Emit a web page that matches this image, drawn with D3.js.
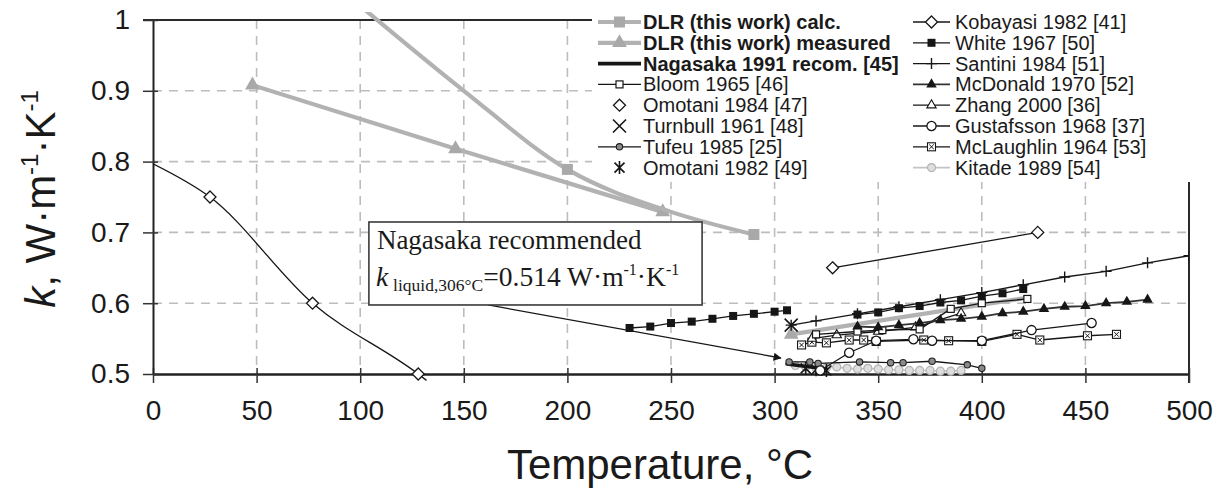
<!DOCTYPE html>
<html>
<head>
<meta charset="utf-8">
<script src="https://cdn.jsdelivr.net/npm/d3@7"></script>
<style>
  html, body { margin: 0; padding: 0; background: #fff; }
  svg { display: block; }
  text { font-family: "Liberation Sans", Arial, Helvetica, sans-serif; }
  text.serif { font-family: "Liberation Serif", "Times New Roman", serif; }
</style>
</head>
<body>
<svg id="chart" width="1227" height="493"></svg>
<script>
// ---- Thermal conductivity of NaNO3, k [W/(m K)] vs temperature [°C] ----
const xTicks = [0, 50, 100, 150, 200, 250, 300, 350, 400, 450, 500];
const yTicks = [0.5, 0.6, 0.7, 0.8, 0.9, 1.0];
const yTickLabels = ["0.5", "0.6", "0.7", "0.8", "0.9", "1"];

// DLR (this work)
const dlrCalcCurve = [[100, 1.02], [150, 0.900], [200, 0.789], [250, 0.729], [290, 0.697]];
const dlrCalcPoints = [[200, 0.789], [290, 0.697]];
const dlrMeasured = [[48, 0.908], [146, 0.818], [246, 0.729]];
const dlrMeasuredLiquid = [[308, 0.556], [420, 0.607]];
// Nagasaka 1991 recommendation (liquid)
const nagasaka = [[306, 0.514], [325, 0.507]];
// literature data
const omotani1984Fit = [[0, 0.797], [27.5, 0.75], [77, 0.6], [128, 0.5], [132, 0.491]];
const omotani1984 = [[27.5, 0.75], [77, 0.6], [128, 0.5]];
const kobayasi1982 = [[328, 0.65], [427, 0.70]];
const white1967Solid = [[230, 0.565], [240, 0.567], [250, 0.572], [260, 0.574], [270, 0.578],
  [280, 0.582], [290, 0.585], [300, 0.588], [306, 0.590]];
const white1967Liquid = [[340, 0.584], [350, 0.587], [360, 0.593], [370, 0.596], [380, 0.601],
  [390, 0.604], [400, 0.610], [410, 0.614], [420, 0.620]];
const santini1984 = [[308, 0.569], [320, 0.575], [340, 0.585], [360, 0.595], [380, 0.605],
  [400, 0.615], [420, 0.626], [440, 0.637], [460, 0.645], [480, 0.657], [500, 0.667]];
const mcdonald1970 = [[340, 0.567], [350, 0.566], [360, 0.569], [370, 0.572], [380, 0.576],
  [390, 0.578], [400, 0.581], [410, 0.586], [420, 0.588], [430, 0.592], [440, 0.595],
  [450, 0.596], [460, 0.600], [470, 0.602], [480, 0.605]];
const bloom1965 = [[320, 0.556], [340, 0.560], [352, 0.562], [370, 0.563], [385, 0.592],
  [400, 0.600], [422, 0.606]];
const zhang2000 = [[318, 0.550], [330, 0.555], [350, 0.560], [368, 0.566], [390, 0.586]];
const gustafsson1968 = [[322, 0.505], [336, 0.530], [349, 0.547], [367, 0.549], [376, 0.547],
  [400, 0.547], [424, 0.562], [453, 0.572]];
const mclaughlin1964 = [[313, 0.541], [318, 0.545], [325, 0.544], [336, 0.548], [343, 0.548],
  [349, 0.546], [372, 0.548], [384, 0.547], [400, 0.546], [417, 0.556], [428, 0.548],
  [451, 0.554], [465, 0.556]];
const turnbull1961 = [[308, 0.569]];
const tufeu1985 = [[307, 0.517], [317, 0.517], [321, 0.515], [341, 0.517], [356, 0.516],
  [362, 0.516], [376, 0.518], [393, 0.513], [400, 0.508]];
const omotani1982 = [[315, 0.508], [320, 0.506], [325, 0.505]];
const kitade1989 = [[310, 0.512], [315, 0.510], [320, 0.508], [325, 0.509], [330, 0.510],
  [335, 0.508], [340, 0.507], [345, 0.508], [350, 0.507], [355, 0.506], [360, 0.506],
  [365, 0.505], [370, 0.505], [375, 0.505], [380, 0.504], [385, 0.504], [390, 0.505]];

const legendLeft = ["DLR (this work) calc.", "DLR (this work) measured", "Nagasaka 1991 recom. [45]",
  "Bloom 1965 [46]", "Omotani 1984 [47]", "Turnbull 1961 [48]", "Tufeu 1985 [25]", "Omotani 1982 [49]"];
const legendRight = ["Kobayasi 1982 [41]", "White 1967 [50]", "Santini 1984 [51]", "McDonald 1970 [52]",
  "Zhang 2000 [36]", "Gustafsson 1968 [37]", "McLaughlin 1964 [53]", "Kitade 1989 [54]"];

const noteLine1 = "Nagasaka recommended";
const noteBox = { x0: 104.2, x1: 265, y0: 0.5975, y1: 0.7147 };
const noteArrow = [[161.7, 0.5975], [303, 0.5226]];

// ---- styles ----
const GRAY = "#b2b2b2";
const INK = "#161616";

const styles = {
  dlrCalc:   { stroke: GRAY, width: 4.2, marker: "sqGray", legendLine: true },
  dlrMeas:   { stroke: GRAY, width: 4.2, marker: "triGray", legendLine: true },
  nagasaka:  { stroke: INK, width: 3.6, marker: null, legendLine: true },
  bloom:     { stroke: INK, width: 1.3, marker: "sqOpen", legendLine: true },
  omo84:     { stroke: INK, width: 1.3, marker: "diamondOpen", legendLine: false },
  turnbull:  { stroke: INK, width: 1.3, marker: "times", legendLine: false },
  tufeu:     { stroke: INK, width: 1.3, marker: "circSmall", legendLine: true },
  omo82:     { stroke: INK, width: 1.3, marker: "asterisk", legendLine: false },
  kobayasi:  { stroke: INK, width: 1.3, marker: "diamondOpen", legendLine: true },
  white:     { stroke: INK, width: 1.3, marker: "sqFill", legendLine: true },
  santini:   { stroke: INK, width: 1.3, marker: "plus", legendLine: true },
  mcdonald:  { stroke: "#333", width: 1.8, marker: "triFill", legendLine: true },
  zhang:     { stroke: INK, width: 1.3, marker: "triOpen", legendLine: true },
  gustafsson:{ stroke: INK, width: 1.3, marker: "circOpen", legendLine: true },
  mclaughlin:{ stroke: INK, width: 1.3, marker: "sqX", legendLine: true },
  kitade:    { stroke: "#c4c4c4", width: 1.6, marker: "circGray", legendLine: true }
};
const legendLeftKeys = ["dlrCalc", "dlrMeas", "nagasaka", "bloom", "omo84", "turnbull", "tufeu", "omo82"];
const legendRightKeys = ["kobayasi", "white", "santini", "mcdonald", "zhang", "gustafsson", "mclaughlin", "kitade"];

// ---- scales ----
const x = d3.scaleLinear().domain([0, 500]).range([153, 1189]);
const y = d3.scaleLinear().domain([0.5, 1]).range([374, 20]);

const svg = d3.select("#chart");

// grid
const grid = svg.append("g").attr("stroke", "#bdbdbd").attr("stroke-width", 1.6)
  .attr("stroke-dasharray", "9,7").attr("fill", "none");
grid.selectAll("line.v").data(xTicks.filter(t => t > 0 && t < 500)).join("line")
  .attr("class", "v").attr("x1", d => x(d)).attr("x2", d => x(d))
  .attr("y1", y(1)).attr("y2", y(0.5));
grid.selectAll("line.h").data(yTicks.filter(t => t > 0.5 && t < 1)).join("line")
  .attr("class", "h").attr("x1", x(0)).attr("x2", x(500))
  .attr("y1", d => y(d)).attr("y2", d => y(d));

// frame (top and right)
svg.append("line").attr("x1", x(0) - 10).attr("x2", x(500)).attr("y1", y(1)).attr("y2", y(1))
  .attr("stroke", "#2a2a2a").attr("stroke-width", 2);
svg.append("line").attr("x1", x(500)).attr("x2", x(500)).attr("y1", y(1)).attr("y2", y(0.5) + 9)
  .attr("stroke", "#2a2a2a").attr("stroke-width", 2);

// legend backdrop hides the grid and frame behind it
svg.append("rect").attr("x", 592).attr("y", 0).attr("width", 635).attr("height", 182).attr("fill", "#fff");

// axes
const xAxis = d3.axisBottom(x).tickValues(xTicks).tickFormat(d3.format("d"))
  .tickSizeInner(9).tickSizeOuter(0).tickPadding(17);
const gx = svg.append("g").attr("transform", `translate(0,${y(0.5)})`).call(xAxis);
gx.attr("font-size", null).attr("font-family", null);
gx.select(".domain").attr("stroke", "#222").attr("stroke-width", 2.6);
gx.selectAll(".tick line").attr("y1", -6).attr("stroke", "#333").attr("stroke-width", 1.5);
gx.selectAll(".tick text").attr("font-size", 28).attr("fill", "#1a1a1a");

const yAxis = d3.axisLeft(y).tickValues(yTicks).tickFormat((d, i) => yTickLabels[i])
  .tickSizeInner(10).tickSizeOuter(0).tickPadding(13);
const gy = svg.append("g").attr("transform", `translate(${x(0)},0)`).call(yAxis);
gy.attr("font-size", null).attr("font-family", null);
gy.select(".domain").attr("stroke", "#222").attr("stroke-width", 2);
gy.selectAll(".tick line").attr("x1", 5).attr("stroke", "#333").attr("stroke-width", 1.5);
gy.selectAll(".tick text").attr("font-size", 28).attr("fill", "#1a1a1a");

// axis titles
svg.append("text").attr("x", 660).attr("y", 479).attr("text-anchor", "middle")
  .attr("font-size", 42).attr("fill", "#1a1a1a").text("Temperature, °C");

const yt = svg.append("text").attr("transform", "translate(55,199) rotate(-90)")
  .attr("text-anchor", "middle").attr("font-size", 42).attr("fill", "#1a1a1a");
yt.append("tspan").attr("font-style", "italic").text("k");
yt.append("tspan").text(", W·m");
yt.append("tspan").attr("font-size", 24).attr("dy", -17).text("-1");
yt.append("tspan").attr("dy", 17).text("·K");
yt.append("tspan").attr("font-size", 24).attr("dy", -17).text("-1");

// ---- markers ----
function drawMarker(g, type, cx, cy) {
  if (!type) return;
  const s = g.append("g").attr("transform", `translate(${cx},${cy})`);
  switch (type) {
    case "sqGray":
      s.append("rect").attr("x", -5.5).attr("y", -5.5).attr("width", 11).attr("height", 11).attr("fill", "#a9a9a9");
      break;
    case "triGray":
      s.append("path").attr("d", d3.symbol(d3.symbolTriangle, 95)()).attr("fill", "#a9a9a9");
      break;
    case "diamondOpen":
      s.append("path").attr("d", "M0,-6L6,0L0,6L-6,0Z").attr("fill", "#fff").attr("stroke", INK).attr("stroke-width", 1.3);
      break;
    case "sqFill":
      s.append("rect").attr("x", -4).attr("y", -4).attr("width", 8).attr("height", 8).attr("fill", INK);
      break;
    case "sqOpen":
      s.append("rect").attr("x", -3.5).attr("y", -3.5).attr("width", 7).attr("height", 7)
        .attr("fill", "#fff").attr("stroke", INK).attr("stroke-width", 1.2);
      break;
    case "plus":
      s.append("path").attr("d", "M-5.5,0H5.5M0,-5.5V5.5").attr("stroke", INK).attr("stroke-width", 1.4);
      break;
    case "triFill":
      s.append("path").attr("d", d3.symbol(d3.symbolTriangle, 48)()).attr("fill", INK);
      break;
    case "triOpen":
      s.append("path").attr("d", d3.symbol(d3.symbolTriangle, 38)()).attr("fill", "#fff")
        .attr("stroke", INK).attr("stroke-width", 1.1);
      break;
    case "circOpen":
      s.append("circle").attr("r", 4.6).attr("fill", "#fff").attr("stroke", INK).attr("stroke-width", 1.3);
      break;
    case "circSmall":
      s.append("circle").attr("r", 3.2).attr("fill", "#8a8a8a").attr("stroke", "#222").attr("stroke-width", 1.1);
      break;
    case "sqX":
      s.append("rect").attr("x", -4).attr("y", -4).attr("width", 8).attr("height", 8)
        .attr("fill", "#fff").attr("stroke", INK).attr("stroke-width", 1.1);
      s.append("path").attr("d", "M-2.3,-2.3L2.3,2.3M-2.3,2.3L2.3,-2.3").attr("stroke", INK).attr("stroke-width", 1);
      break;
    case "circGray":
      s.append("circle").attr("r", 4).attr("fill", "#dedede").attr("stroke", "#b4b4b4").attr("stroke-width", 1.2);
      break;
    case "times":
      s.append("path").attr("d", "M-6.5,-6.5L6.5,6.5M-6.5,6.5L6.5,-6.5").attr("stroke", INK).attr("stroke-width", 1.6);
      break;
    case "asterisk":
      s.append("path").attr("d", "M-5,-5L5,5M-5,5L5,-5M0,-6.5V6.5").attr("stroke", INK).attr("stroke-width", 1.6);
      break;
  }
}

// ---- data layer ----
svg.append("defs").append("clipPath").attr("id", "plotClip")
  .append("rect").attr("x", x(0)).attr("y", 12).attr("width", x(500) - x(0)).attr("height", 370);

const plot = svg.append("g").attr("clip-path", "url(#plotClip)");
const line = d3.line().x(d => x(d[0])).y(d => y(d[1]));
const smooth = d3.line().x(d => x(d[0])).y(d => y(d[1])).curve(d3.curveMonotoneX);

function drawSeries(data, st, opts = {}) {
  const g = plot.append("g");
  if (opts.line !== false) {
    g.append("path").datum(data).attr("d", opts.smooth ? smooth : line)
      .attr("fill", "none").attr("stroke", st.stroke).attr("stroke-width", st.width)
      .attr("stroke-linejoin", "round").attr("stroke-linecap", "round");
  }
  if (opts.markers !== false) data.forEach(d => drawMarker(g, st.marker, x(d[0]), y(d[1])));
}

// liquid-phase cluster first so lighter series sit beneath
drawSeries(kitade1989, styles.kitade);
drawSeries(nagasaka, styles.nagasaka, { markers: false });
drawSeries(omotani1982, styles.omo82, { line: false });
drawSeries(tufeu1985, styles.tufeu);
drawSeries(dlrMeasuredLiquid, styles.dlrMeas, { markers: false });
drawMarker(plot, "triGray", x(dlrMeasuredLiquid[0][0]), y(dlrMeasuredLiquid[0][1]));
drawSeries(mclaughlin1964, styles.mclaughlin);
drawSeries(gustafsson1968, styles.gustafsson);
drawSeries(zhang2000, styles.zhang);
drawSeries(bloom1965, styles.bloom);
drawSeries(mcdonald1970, styles.mcdonald);
drawSeries(white1967Solid, styles.white);
drawSeries(white1967Liquid, styles.white);
drawSeries(santini1984, styles.santini);
drawSeries(turnbull1961, styles.turnbull, { line: false });
drawSeries(kobayasi1982, styles.kobayasi);

// solid phase
plot.append("path").datum(omotani1984Fit).attr("d", smooth).attr("fill", "none")
  .attr("stroke", INK).attr("stroke-width", 1.3);
drawSeries(omotani1984, styles.omo84, { line: false });
drawSeries(dlrMeasured, styles.dlrMeas);
drawSeries(dlrCalcCurve, styles.dlrCalc, { smooth: true, markers: false });
drawSeries(dlrCalcPoints, styles.dlrCalc, { line: false });

// ---- annotation ----
const defs = svg.select("defs");
defs.append("marker").attr("id", "arrowHead").attr("viewBox", "0 0 10 10")
  .attr("refX", 9).attr("refY", 5).attr("markerWidth", 12).attr("markerHeight", 8)
  .attr("markerUnits", "userSpaceOnUse").attr("orient", "auto")
  .append("path").attr("d", "M0,0L10,5L0,10Z").attr("fill", INK);

svg.append("line")
  .attr("x1", x(noteArrow[0][0])).attr("y1", y(noteArrow[0][1]))
  .attr("x2", x(noteArrow[1][0])).attr("y2", y(noteArrow[1][1]))
  .attr("stroke", INK).attr("stroke-width", 1.3).attr("marker-end", "url(#arrowHead)");

const bx = x(noteBox.x0), by = y(noteBox.y1);
svg.append("rect").attr("x", bx).attr("y", by)
  .attr("width", x(noteBox.x1) - bx).attr("height", y(noteBox.y0) - by)
  .attr("fill", "#fff").attr("stroke", "#3a3a3a").attr("stroke-width", 1.6);

svg.append("text").attr("class", "serif").attr("x", bx + 8).attr("y", by + 27)
  .attr("font-size", 27).attr("fill", "#1a1a1a").text(noteLine1);
const t2 = svg.append("text").attr("class", "serif").attr("x", bx + 7).attr("y", by + 64)
  .attr("font-size", 27.5).attr("fill", "#1a1a1a");
t2.append("tspan").attr("font-style", "italic").text("k");
t2.append("tspan").attr("font-size", 17.5).attr("dx", 5).attr("dy", 5).text("liquid,306°C");
t2.append("tspan").attr("dy", -5).text("=0.514 W·m");
t2.append("tspan").attr("font-size", 16).attr("dy", -11).text("-1");
t2.append("tspan").attr("dy", 11).text("·K");
t2.append("tspan").attr("font-size", 16).attr("dy", -11).text("-1");

// ---- legend ----
function legendColumn(names, keys, lx0, lx1, tx, boldRows) {
  const rowY = i => 22 + i * 20.8;
  const g = svg.append("g");
  names.forEach((name, i) => {
    const st = styles[keys[i]];
    const cy = rowY(i);
    if (st.legendLine) {
      g.append("line").attr("x1", lx0).attr("x2", lx1).attr("y1", cy).attr("y2", cy)
        .attr("stroke", st.stroke).attr("stroke-width", st.width);
    }
    drawMarker(g, st.marker, (lx0 + lx1) / 2, cy);
    g.append("text").attr("x", tx).attr("y", cy).attr("dy", "0.35em")
      .attr("font-size", 20).attr("font-weight", i < boldRows ? "bold" : "normal")
      .attr("fill", "#1a1a1a").text(name);
  });
}
legendColumn(legendLeft, legendLeftKeys, 598, 641, 643, 3);
legendColumn(legendRight, legendRightKeys, 913, 950, 955, 0);
</script>
</body>
</html>
